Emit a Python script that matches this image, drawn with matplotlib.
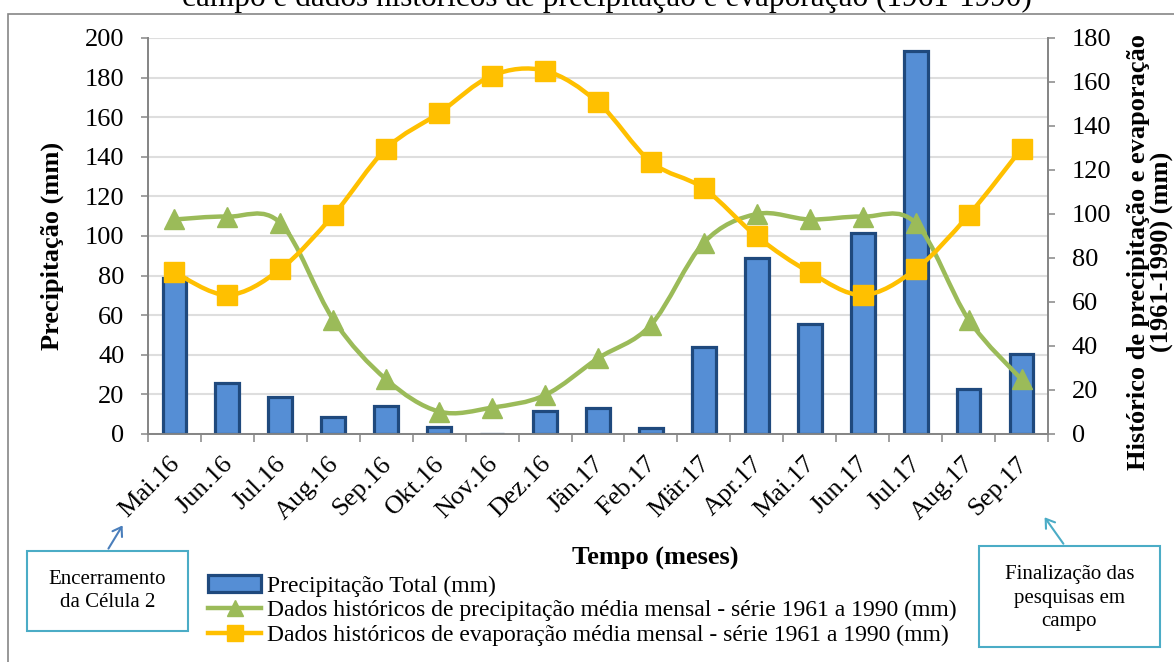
import matplotlib
matplotlib.use("Agg")
import matplotlib.pyplot as plt
from matplotlib.path import Path
from matplotlib.patches import PathPatch, Rectangle, Patch, FancyArrowPatch
from matplotlib.lines import Line2D
import matplotlib.transforms as mtransforms

months = ["Mai.16", "Jun.16", "Jul.16", "Aug.16", "Sep.16", "Okt.16", "Nov.16",
          "Dez.16", "Jän.17", "Feb.17", "Mär.17", "Apr.17", "Mai.17", "Jun.17",
          "Jul.17", "Aug.17", "Sep.17"]
precip_total = [79, 26, 18.5, 8.7, 14.3, 3.4, 0, 11.8, 13.3, 2.9, 44, 88.9, 55.8,
                101.7, 193.6, 22.7, 40.2]
precip_hist = [97.5, 98.8, 95.9, 52, 24.8, 10.2, 12, 17.7, 34.4, 49.6, 87, 100,
               97.5, 98.8, 95.9, 52, 24.8]
evap_hist = [73.5, 63.2, 74.9, 99.5, 129.7, 145.9, 162.9, 165.1, 150.7, 123.7,
             111.6, 89.8, 73.5, 63.2, 74.9, 99.5, 129.7]
left_ticks = [0, 20, 40, 60, 80, 100, 120, 140, 160, 180, 200]
right_ticks = [0, 20, 40, 60, 80, 100, 120, 140, 160, 180]

W, H = 1174, 662
SERIF = ["Liberation Serif", "DejaVu Serif"]
plt.rcParams["font.family"] = SERIF

BAR_FILL = "#558ed5"
BAR_EDGE = "#1f497d"
GREEN = "#9bbb59"
ORANGE = "#ffc000"
GRID = "#dedede"
AXC = "#868686"
FS = 19


def fx(px):
    return px / W


def fy(py):
    return 1 - py / H


fig = plt.figure(figsize=(W / 100, H / 100), dpi=100)
ax = fig.add_axes([fx(148), fy(434), fx(1048) - fx(148), fy(38) - fy(434)])
ax2 = ax.twinx()

n = len(months)
xs = list(range(n))
ax.bar(xs, precip_total, width=0.45, color=BAR_FILL, edgecolor=BAR_EDGE,
       linewidth=2.3, zorder=3)
ax.set_xlim(-0.5, n - 0.5)
ax.set_ylim(0, 200)
ax.set_yticks(left_ticks)
ax.grid(axis="y", color=GRID, linewidth=1.5, zorder=0)
ax.set_axisbelow(True)
ax2.set_ylim(0, 180)
ax2.set_yticks(right_ticks)


def smooth_path(xv, yv):
    pts = list(zip(xv, yv))
    m = len(pts)
    verts = [pts[0]]
    codes = [Path.MOVETO]
    for i in range(m - 1):
        p0 = pts[i - 1] if i > 0 else pts[i]
        p1 = pts[i]
        p2 = pts[i + 1]
        p3 = pts[i + 2] if i + 2 < m else pts[i + 1]
        c1 = (p1[0] + (p2[0] - p0[0]) / 6, p1[1] + (p2[1] - p0[1]) / 6)
        c2 = (p2[0] - (p3[0] - p1[0]) / 6, p2[1] - (p3[1] - p1[1]) / 6)
        verts += [c1, c2, p2]
        codes += [Path.CURVE4] * 3
    return Path(verts, codes)


for yv, col, mk, z in [(precip_hist, GREEN, "^", 4), (evap_hist, ORANGE, "s", 5)]:
    pp = PathPatch(smooth_path(xs, yv), fill=False, edgecolor=col, linewidth=3.2,
                   capstyle="round", joinstyle="round", zorder=z)
    ax2.add_patch(pp)
    ax2.plot(xs, yv, linestyle="none", marker=mk, markersize=14,
             color=col, zorder=z + 0.5)

# spines
for a in (ax, ax2):
    a.spines["top"].set_visible(False)
    for s in ("left", "right", "bottom"):
        a.spines[s].set_color(AXC)
        a.spines[s].set_linewidth(1.3)

ax.tick_params(axis="y", direction="out", length=5, width=1.1, color=AXC,
               labelsize=FS, pad=12)
ax2.tick_params(axis="y", direction="out", length=5, width=1.1, color=AXC,
                labelsize=FS, pad=12)
ax.set_xticks(xs)
ax.set_xticks([i - 0.5 for i in range(n + 1)], minor=True)
ax.tick_params(axis="x", which="major", length=0, labelsize=FS, pad=19)
ax.tick_params(axis="x", which="minor", direction="out", length=6, width=1.1,
               color=AXC)
ax.set_xticklabels(months, rotation=45, ha="right", va="center",
                   rotation_mode="anchor")
offset = mtransforms.ScaledTranslation(2 / 100, 0, fig.dpi_scale_trans)
for lab in ax.get_xticklabels():
    lab.set_transform(lab.get_transform() + offset)

# axis titles
fig.text(fx(52), fy(246), "Precipitação (mm)", rotation=90, ha="center",
         va="center", fontsize=FS, fontweight="bold")
fig.text(fx(1139), fy(252), "Histórico de precipitação e evaporação",
         rotation=90, ha="center", va="center", fontsize=FS, fontweight="bold")
fig.text(fx(1162), fy(252), "(1961-1990) (mm)",
         rotation=90, ha="center", va="center", fontsize=FS, fontweight="bold")
fig.text(fx(655), fy(558), "Tempo (meses)", ha="center", va="center",
         fontsize=FS, fontweight="bold")

# title (cut off at top)
fig.text(fx(607), fy(6), "campo e dados históricos de precipitação e evaporação (1961-1990)",
         ha="center", va="baseline", fontsize=22.5)

# legend
handles = [
    Patch(facecolor=BAR_FILL, edgecolor=BAR_EDGE, linewidth=2.3),
    Line2D([], [], color=GREEN, linewidth=3.2, marker="^", markersize=11),
    Line2D([], [], color=ORANGE, linewidth=3.2, marker="s", markersize=11),
]
labels = ["Precipitação Total (mm)",
          "Dados históricos de precipitação média mensal - série 1961 a 1990 (mm)",
          "Dados históricos de evaporação média mensal - série 1961 a 1990 (mm)"]
fig.legend(handles, labels, loc="upper left", bbox_to_anchor=(fx(208), fy(575)),
           frameon=False, fontsize=17, handlelength=2.25, handletextpad=0.25,
           labelspacing=0.14, borderpad=0, borderaxespad=0)

# outer border
fig.patches.append(Rectangle((fx(8), fy(664)), fx(1180) - fx(8), fy(14) - fy(664),
                             transform=fig.transFigure, fill=False,
                             edgecolor=AXC, linewidth=1.2))

# annotation boxes
BOXC = "#4bacc6"
fig.patches.append(Rectangle((fx(27), fy(631)), fx(188) - fx(27), fy(551) - fy(631),
                             transform=fig.transFigure, facecolor="white",
                             edgecolor=BOXC, linewidth=1.5))
fig.text(fx(107.5), fy(591), "Encerramento\nda Célula 2", ha="center", va="center",
         fontsize=15, linespacing=1.3)
fig.patches.append(Rectangle((fx(979), fy(647)), fx(1160) - fx(979), fy(546) - fy(647),
                             transform=fig.transFigure, facecolor="white",
                             edgecolor=BOXC, linewidth=1.5))
fig.text(fx(1069.5), fy(598), "Finalização das\npesquisas em\ncampo", ha="center",
         va="center", fontsize=15, linespacing=1.35)

fig.patches.append(FancyArrowPatch((fx(107), fy(551)), (fx(124), fy(523)),
                                   transform=fig.transFigure, arrowstyle="->,head_length=6,head_width=4",
                                   color="#4a7ebb", linewidth=1.5, mutation_scale=1))
fig.patches.append(FancyArrowPatch((fx(1065), fy(546)), (fx(1043), fy(515)),
                                   transform=fig.transFigure, arrowstyle="->,head_length=6,head_width=4",
                                   color=BOXC, linewidth=1.5, mutation_scale=1))

fig.savefig("out.png", dpi=100)
